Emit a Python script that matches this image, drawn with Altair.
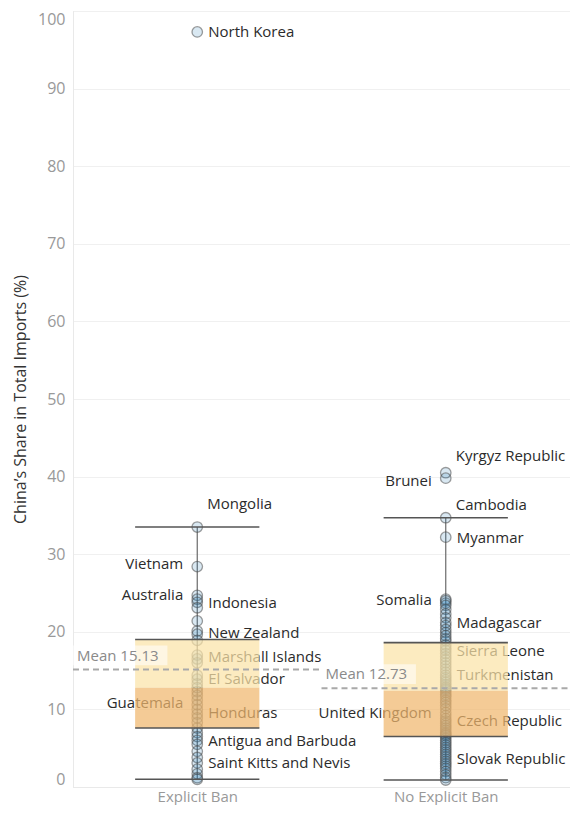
import json
import altair as alt
import pandas as pd

# ---------------- data ----------------
groups = ["Explicit Ban", "No Explicit Ban"]

explicit_ban = [97.3, 33.5, 28.4, 24.7, 24.2, 23.8, 23.1, 21.4, 20.1, 19.7, 18.9,
                17.0, 16.5, 16.0, 14.4, 13.9, 13.3, 12.8, 12.3, 11.8, 11.2, 10.6,
                10.0, 9.4, 8.9, 8.3, 7.6, 7.0, 6.5, 6.0, 5.5, 4.6, 3.8, 3.1, 2.3,
                1.7, 1.2, 1.0]

no_explicit_ban = [40.5, 39.8, 34.7, 32.2, 24.2, 24.0, 23.7, 23.4, 22.9, 22.3, 21.8,
                   21.2, 20.8, 20.3, 19.9, 19.5, 19.1, 18.8, 18.3, 17.9, 17.6, 17.2,
                   16.8, 16.4, 16.0, 15.6, 15.2, 14.8, 14.4, 14.1, 13.8, 13.5, 13.2,
                   12.9, 12.7, 12.5, 12.2, 11.9, 11.6, 11.2, 10.9, 10.5, 10.1, 9.6,
                   9.2, 8.8, 8.5, 8.2, 7.9, 7.6, 7.3, 7.0, 6.8, 6.6, 6.3, 6.0, 5.7,
                   5.4, 5.1, 4.8, 4.5, 4.2, 3.9, 3.6, 3.3, 3.0, 2.7, 2.4, 2.0, 1.6,
                   1.2, 0.9]

whisker_low = [1.0, 0.9]
q1 = [7.6, 6.5]
median = [12.8, 12.4]
q3 = [19.0, 18.6]
whisker_high = [33.5, 34.7]
mean = [15.13, 12.73]

label_names = ["North Korea", "Mongolia", "Vietnam", "Australia", "Indonesia",
               "New Zealand", "Marshall Islands", "El Salvador", "Guatemala",
               "Honduras", "Antigua and Barbuda", "Saint Kitts and Nevis",
               "Kyrgyz Republic", "Brunei", "Cambodia", "Myanmar", "Somalia",
               "Madagascar", "Sierra Leone", "Turkmenistan", "United Kingdom",
               "Czech Republic", "Slovak Republic"]
label_group = ["Explicit Ban"] * 12 + ["No Explicit Ban"] * 11
label_value = [97.3, 36.5, 28.7, 24.8, 23.7, 19.9, 16.8, 13.9, 10.8, 9.5, 5.9, 3.1,
               42.6, 39.4, 36.4, 32.1, 24.1, 21.1, 17.5, 14.4, 9.6, 8.5, 3.6]
label_side = ["right", "above", "left", "left", "right", "right", "right", "right",
              "left", "right", "right", "right",
              "above", "left", "above", "right", "left", "right", "right", "right",
              "left", "right", "right"]

# ---------------- tables ----------------
points = pd.DataFrame({
    "group": [groups[0]] * len(explicit_ban) + [groups[1]] * len(no_explicit_ban),
    "value": explicit_ban + no_explicit_ban,
})
points["gi"] = points["group"].map(groups.index)

stats = pd.DataFrame({
    "group": groups, "wlo": whisker_low, "q1": q1, "med": median,
    "q3": q3, "whi": whisker_high, "mean": mean,
})
stats["gi"] = stats["group"].map(groups.index)

labels = pd.DataFrame({"name": label_names, "group": label_group,
                       "value": label_value, "side": label_side})
labels["gi"] = labels["group"].map(groups.index)

FONT = "Open Sans"
TXT = "#2b2b2b"
FS = 15

y_scale = alt.Scale(domain=[0, 100], nice=False, zero=True)
x_scale = alt.Scale(domain=[0, 2], nice=False, zero=False)

Y_AX = alt.Axis(values=list(range(0, 101, 10)), title="China’s Share in Total Imports (%)",
                labelFlush=True, labelColor="#999999", labelFontSize=16, labelPadding=8,
                ticks=False, grid=True, gridColor="#f0f0f0", gridWidth=1,
                domain=True, domainColor="#e9e9e9", domainWidth=1,
                titleColor="#333333", titleFontSize=16, titleFontWeight="normal",
                titlePadding=9, labelFont=FONT, titleFont=FONT)
X_AX = alt.Axis(values=[0.5, 1.5],
                labelExpr=f"{json.dumps(groups)}[floor(datum.value)]",
                title=None, ticks=False, grid=False, domain=True,
                domainColor="#e9e9e9", labelColor="#999999", labelFontSize=15,
                labelPadding=2, labelFont=FONT)


def X(field):
    return alt.X(f"{field}:Q", scale=x_scale, axis=X_AX)


def Y(field):
    return alt.Y(f"{field}:Q", scale=y_scale, axis=Y_AX)


# whisker vertical line
whisk = alt.Chart(stats).transform_calculate(xc="datum.gi + 0.5").mark_rule(
    color="#6a6a6a", strokeWidth=1.2
).encode(x=X("xc"), y=Y("wlo"), y2=alt.Y2("whi"))

# points
pts = alt.Chart(points).transform_calculate(xc="datum.gi + 0.5").mark_circle(
    size=110, fill="#1f77b4", fillOpacity=0.17, stroke="#4d4d4d",
    strokeOpacity=0.55, strokeWidth=1.3
).encode(x=X("xc"), y=Y("value"))

# labels
lab_base = alt.Chart(labels).transform_calculate(xc="datum.gi + 0.5")
lab_right = lab_base.transform_filter("datum.side == 'right'").mark_text(
    align="left", baseline="middle", dx=11, fontSize=FS, color=TXT, font=FONT
).encode(x=X("xc"), y=Y("value"), text="name:N")
lab_left = lab_base.transform_filter("datum.side == 'left'").mark_text(
    align="right", baseline="middle", dx=-14, fontSize=FS, color=TXT, font=FONT
).encode(x=X("xc"), y=Y("value"), text="name:N")
lab_above = lab_base.transform_filter("datum.side == 'above'").mark_text(
    align="left", baseline="middle", dx=10, fontSize=FS, color=TXT, font=FONT
).encode(x=X("xc"), y=Y("value"), text="name:N")

# box
box_base = alt.Chart(stats).transform_calculate(xl="datum.gi + 0.25", xr="datum.gi + 0.75")
box_up = box_base.mark_rect(color="#fbe3a8", opacity=0.72).encode(
    x=X("xl"), x2=alt.X2("xr"), y=Y("q3"), y2=alt.Y2("med"))
box_lo = box_base.mark_rect(color="#f0b76d", opacity=0.72).encode(
    x=X("xl"), x2=alt.X2("xr"), y=Y("med"), y2=alt.Y2("q1"))

# caps and box edges
caps = box_base.transform_fold(["wlo", "whi", "q1", "q3"], as_=["stat", "level"]).mark_rule(
    color="#555555", strokeWidth=1.6
).encode(x=X("xl"), x2=alt.X2("xr"), y=Y("level"))

# mean line + label
mean_base = alt.Chart(stats).transform_calculate(
    x0="datum.gi", x1="datum.gi + 1", bx1="datum.gi + 0.38",
    by0="datum.mean + 0.55", by1="datum.mean + 3.1",
    txt="'Mean ' + format(datum.mean, '.2f')")
mean_line = mean_base.mark_rule(color="#a9a9a9", strokeWidth=2, strokeDash=[6, 4]).encode(
    x=X("x0"), x2=alt.X2("x1"), y=Y("mean"))
mean_bg = mean_base.mark_rect(color="white", opacity=0.55).encode(
    x=X("x0"), x2=alt.X2("bx1"), y=Y("by0"), y2=alt.Y2("by1"))
mean_txt = mean_base.mark_text(align="left", baseline="middle", dx=4, dy=-14,
                               fontSize=FS, color="#8a8a8a", font=FONT).encode(
    x=X("x0"), y=Y("mean"), text="txt:N")

chart = alt.layer(
    whisk, pts, lab_right, lab_left, lab_above, box_up, box_lo, caps,
    mean_line, mean_bg, mean_txt
).properties(
    width=497, height=776,
    autosize=alt.AutoSizeParams(type="none"),
    padding={"left": 65, "right": 0, "top": 3, "bottom": 18},
).configure_view(stroke=None).configure(font=FONT)

chart.save("out.html", embed_options={"renderer": "svg", "actions": False})
